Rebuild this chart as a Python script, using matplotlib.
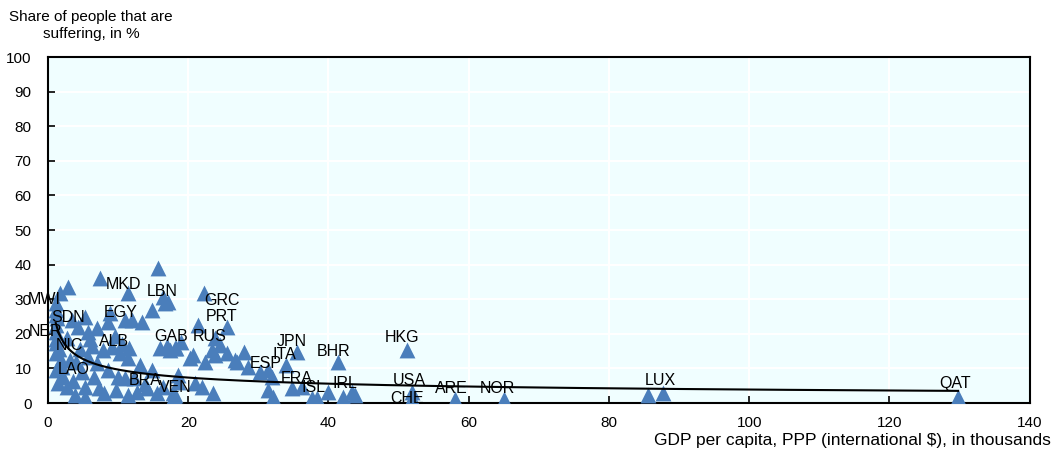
import numpy as np
import matplotlib.pyplot as plt

# GDP per capita (PPP, thousands) and share suffering (%)
gdp = [1.2, 1.1, 1.2, 1.7, 2.9, 1.3, 1.2, 1.2, 1.2, 1.5, 1.2, 1.8, 1.1, 1.4, 2.2, 2.7,
       3.1, 2.7, 3.4, 3.9, 3.5, 2.0, 1.2,
       5.3, 4.3, 5.7, 7.0, 5.3, 5.3, 7.2, 7.0, 5.7, 7.4, 8.8, 8.6, 7.9, 9.1, 4.5, 6.2,
       4.8, 6.5, 8.5, 8.0, 4.0, 6.0, 9.5,
       10.3, 11.4, 11.4, 11.0, 12.0, 13.4, 14.8, 15.7, 16.4, 16.7, 10.0, 11.0, 13.1,
       14.8, 14.1, 15.5, 17.8, 16.4, 18.5, 12.7, 11.4, 10.5, 11.5, 12.3, 16.0, 17.0,
       18.2, 19.0, 13.8, 9.7, 18.0,
       22.2, 17.1, 21.4, 25.5, 23.8, 24.5, 23.4, 20.7, 20.3, 22.4, 23.8, 25.5, 26.9,
       18.5, 18.1, 21.0, 21.9, 23.5, 17.4, 18.1,
       27.9, 26.7, 28.5, 30.2, 31.4, 31.9, 34.0, 35.5, 31.4, 32.1, 34.8, 36.2, 37.6,
       41.4, 51.2, 38.3, 40.0, 42.1, 43.3, 43.8, 51.9, 51.9, 58.1, 65.0,
       85.6, 87.7, 129.8]
suffering = [26.9, 25.4, 28.9, 31.7, 33.6, 24.5, 20.5, 18.5, 17.3, 15.5, 14.5, 12.5, 9.5,
             5.8, 7.5, 4.7, 12.4, 18.8, 24.0, 2.3, 6.5, 10.5, 22.5,
             24.9, 22.0, 20.5, 21.7, 1.7, 4.6, 4.3, 11.6, 13.3, 36.1, 26.0, 23.4, 15.3,
             16.2, 15.5, 16.5, 9.0, 7.5, 9.5, 2.8, 12.0, 18.5, 19.5,
             14.5, 13.0, 31.8, 24.0, 24.0, 23.4, 26.9, 39.0, 30.6, 28.9, 7.5, 7.2, 11.0,
             9.5, 4.3, 2.9, 2.9, 4.6, 6.1, 3.2, 2.3, 17.0, 16.0, 7.3, 15.8, 16.5, 16.0,
             17.5, 5.5, 3.8, 2.0,
             31.7, 29.2, 22.5, 22.0, 18.8, 16.8, 15.3, 13.9, 13.0, 11.8, 13.9, 14.5, 11.8,
             8.1, 2.3, 5.8, 4.6, 2.9, 15.3, 15.9,
             14.8, 12.4, 10.4, 9.0, 9.5, 7.5, 11.0, 14.8, 3.8, 1.7, 4.3, 4.6, 1.4,
             11.9, 15.3, 1.4, 3.2, 1.7, 3.2, 2.3, 3.2, 1.4, 1.2, 1.2,
             2.3, 2.9, 1.8]

# power trend line: share = a * gdp^b
trend_a = 24.0
trend_b = -0.395

# country labels and where their text sits
label_names = ['MWI', 'SDN', 'NER', 'NIC', 'LAO', 'MKD', 'EGY', 'ALB', 'LBN', 'BRA',
               'VEN', 'GAB', 'RUS', 'GRC', 'PRT', 'JPN', 'ITA', 'ESP', 'FRA', 'ISL',
               'IRL', 'BHR', 'HKG', 'USA', 'CHE', 'ARE', 'NOR', 'LUX', 'QAT']
label_x = [-0.6, 2.85, -0.4, 3.1, 3.7, 10.7, 10.3, 9.4, 16.3, 13.8, 18.1, 17.5, 23.0,
           24.8, 24.7, 34.8, 33.7, 31.1, 35.4, 37.9, 42.4, 40.7, 50.5, 51.5, 51.2,
           57.5, 64.1, 87.3, 129.4]
label_y = [29.8, 24.6, 20.8, 16.5, 9.8, 34.4, 26.3, 17.9, 32.1, 6.6, 4.6, 19.1, 19.1,
           29.5, 25.1, 17.9, 13.9, 11.3, 7.2, 4.6, 5.5, 15.0, 18.8, 6.4, 1.4, 4.3, 4.3,
           6.4, 5.5]

plt.rcParams['font.family'] = ['Liberation Sans', 'DejaVu Sans']

fig = plt.figure(figsize=(10.56, 4.5), dpi=100)
ax = fig.add_axes([0.0455, 0.1044, 0.9295, 0.7686])
ax.set_facecolor('#F0FEFF')

ax.scatter(gdp, suffering, marker='^', s=130, color='#4A7EBB', linewidths=0, zorder=3)

xs = np.linspace(min(gdp), max(gdp), 400)
ax.plot(xs, trend_a * xs ** trend_b, color='black', lw=1.5, zorder=4)

for name, lx, ly in zip(label_names, label_x, label_y):
    ax.text(lx, ly, name, fontsize=11.5, ha='center', va='center', zorder=5,
            clip_on=False)

ax.set_xlim(0, 140)
ax.set_ylim(0, 100)
ax.set_xticks(range(0, 141, 20))
ax.set_yticks(range(0, 101, 10))
ax.grid(True, color='white', lw=1.5, zorder=0)
ax.set_axisbelow(True)
ax.tick_params(direction='in', length=5, width=1.2, labelsize=11)
ax.tick_params(axis='y', pad=12)
ax.tick_params(axis='x', pad=9)
for s in ax.spines.values():
    s.set_linewidth(1.5)
    s.set_color('black')

fig.text(0.086, 0.978, 'Share of people that are\nsuffering, in %', fontsize=11,
         ha='center', va='top', linespacing=1.3)
fig.text(0.995, 0.021, 'GDP per capita, PPP (international $), in thousands',
         fontsize=12.5, ha='right', va='center')

fig.savefig('out.png', dpi=100)
